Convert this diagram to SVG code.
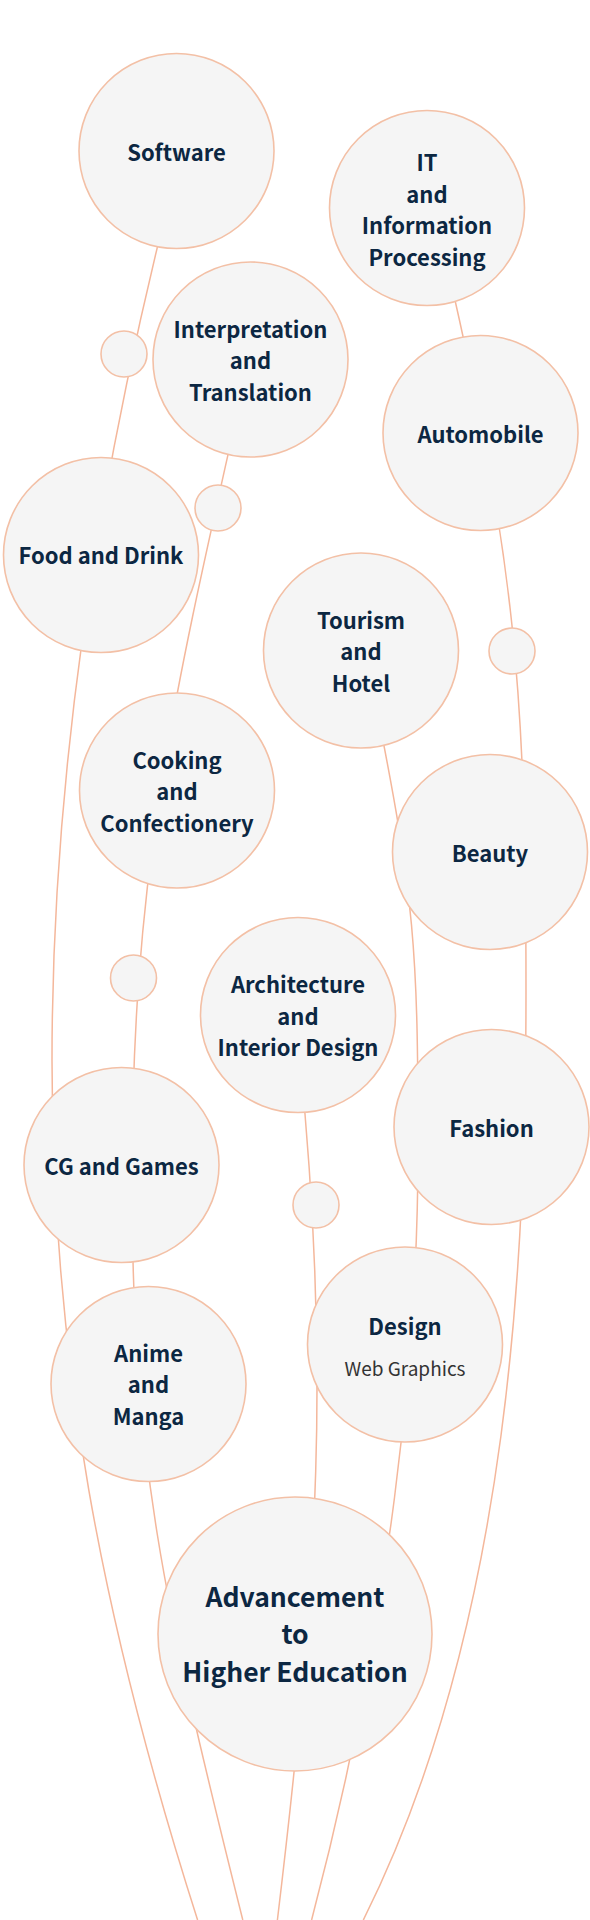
<svg xmlns="http://www.w3.org/2000/svg" width="590" height="1920" viewBox="0 0 590 1920">
<style>
.str{fill:none;stroke:#f4b79b;stroke-width:1.5}
.c{fill:#f5f5f5;stroke:#f3c0a6;stroke-width:1.6}
.t{font-family:"Noto Sans CJK JP","Noto Sans",sans-serif;font-weight:700;font-size:22px;fill:#0c2742;text-anchor:middle}
.big{font-size:26.5px}
.sub{font-family:"Noto Sans CJK JP","Noto Sans",sans-serif;font-weight:400;font-size:19px;fill:#333;text-anchor:middle}
</style>
<rect width="590" height="1920" fill="#ffffff"/>
<g id="connectors">
<path class="str" d="M166.5,210 C91.5,510 52,790 52,1060 C52,1360 101.6,1620 197.6,1920"/>
<path class="str" d="M238,410 C170.5,710 132,880 132,1180 C132,1460 162.8,1600 242.8,1920"/>
<path class="str" d="M300,1060 C330,1360 319.4,1570 277.4,1920"/>
<path class="str" d="M375,700 C415,900 418,950 418,1150 C418,1350 390.8,1620 311.6,1920"/>
<path class="str" d="M447,265 C515,560 526,690 526,990 C526,1240 513.3,1620 363.3,1920"/>
</g>
<g id="dot1"><circle class="c" cx="124" cy="354" r="23"/></g>
<g id="dot2"><circle class="c" cx="218" cy="508" r="23"/></g>
<g id="dot3"><circle class="c" cx="512" cy="651" r="23"/></g>
<g id="dot4"><circle class="c" cx="133.5" cy="978" r="23"/></g>
<g id="dot5"><circle class="c" cx="316" cy="1205" r="23"/></g>
<g id="software"><circle class="c" cx="176.5" cy="151" r="97.5"/><text class="t" x="176.5" y="161">Software</text></g>
<g id="it"><circle class="c" cx="427" cy="208" r="97.5"/><text class="t" x="427"><tspan x="427" y="171">IT</tspan><tspan x="427" y="202.5">and</tspan><tspan x="427" y="234">Information</tspan><tspan x="427" y="265.5">Processing</tspan></text></g>
<g id="interpretation"><circle class="c" cx="250.5" cy="359.5" r="97.5"/><text class="t"><tspan x="250.5" y="337.5">Interpretation</tspan><tspan x="250.5" y="369">and</tspan><tspan x="250.5" y="400.5">Translation</tspan></text></g>
<g id="automobile"><circle class="c" cx="480.5" cy="433" r="97.5"/><text class="t" x="480.5" y="442.5">Automobile</text></g>
<g id="food"><circle class="c" cx="101" cy="555" r="97.5"/><text class="t" x="101" y="564">Food and Drink</text></g>
<g id="tourism"><circle class="c" cx="361" cy="650.5" r="97.5"/><text class="t"><tspan x="361" y="628.5">Tourism</tspan><tspan x="361" y="660">and</tspan><tspan x="361" y="691.5">Hotel</tspan></text></g>
<g id="cooking"><circle class="c" cx="177" cy="790.5" r="97.5"/><text class="t"><tspan x="177" y="768.5">Cooking</tspan><tspan x="177" y="800">and</tspan><tspan x="177" y="831.5">Confectionery</tspan></text></g>
<g id="beauty"><circle class="c" cx="490" cy="852" r="97.5"/><text class="t" x="490" y="861.5">Beauty</text></g>
<g id="architecture"><circle class="c" cx="298" cy="1015" r="97.5"/><text class="t"><tspan x="298" y="993">Architecture</tspan><tspan x="298" y="1024.5">and</tspan><tspan x="298" y="1056">Interior Design</tspan></text></g>
<g id="fashion"><circle class="c" cx="491.5" cy="1127" r="97.5"/><text class="t" x="491.5" y="1136.5">Fashion</text></g>
<g id="cg"><circle class="c" cx="121.5" cy="1165" r="97.5"/><text class="t" x="121.5" y="1174.5">CG and Games</text></g>
<g id="design"><circle class="c" cx="405" cy="1344.5" r="97.5"/><text class="t" x="405" y="1335">Design</text><text class="sub" x="405" y="1376">Web Graphics</text></g>
<g id="anime"><circle class="c" cx="148.5" cy="1384" r="97.5"/><text class="t"><tspan x="148.5" y="1361.5">Anime</tspan><tspan x="148.5" y="1393">and</tspan><tspan x="148.5" y="1424.5">Manga</tspan></text></g>
<g id="advancement"><circle class="c" cx="295" cy="1634" r="137"/><text class="t big"><tspan x="295" y="1606.5">Advancement</tspan><tspan x="295" y="1644">to</tspan><tspan x="295" y="1681.5">Higher Education</tspan></text></g>
</svg>
